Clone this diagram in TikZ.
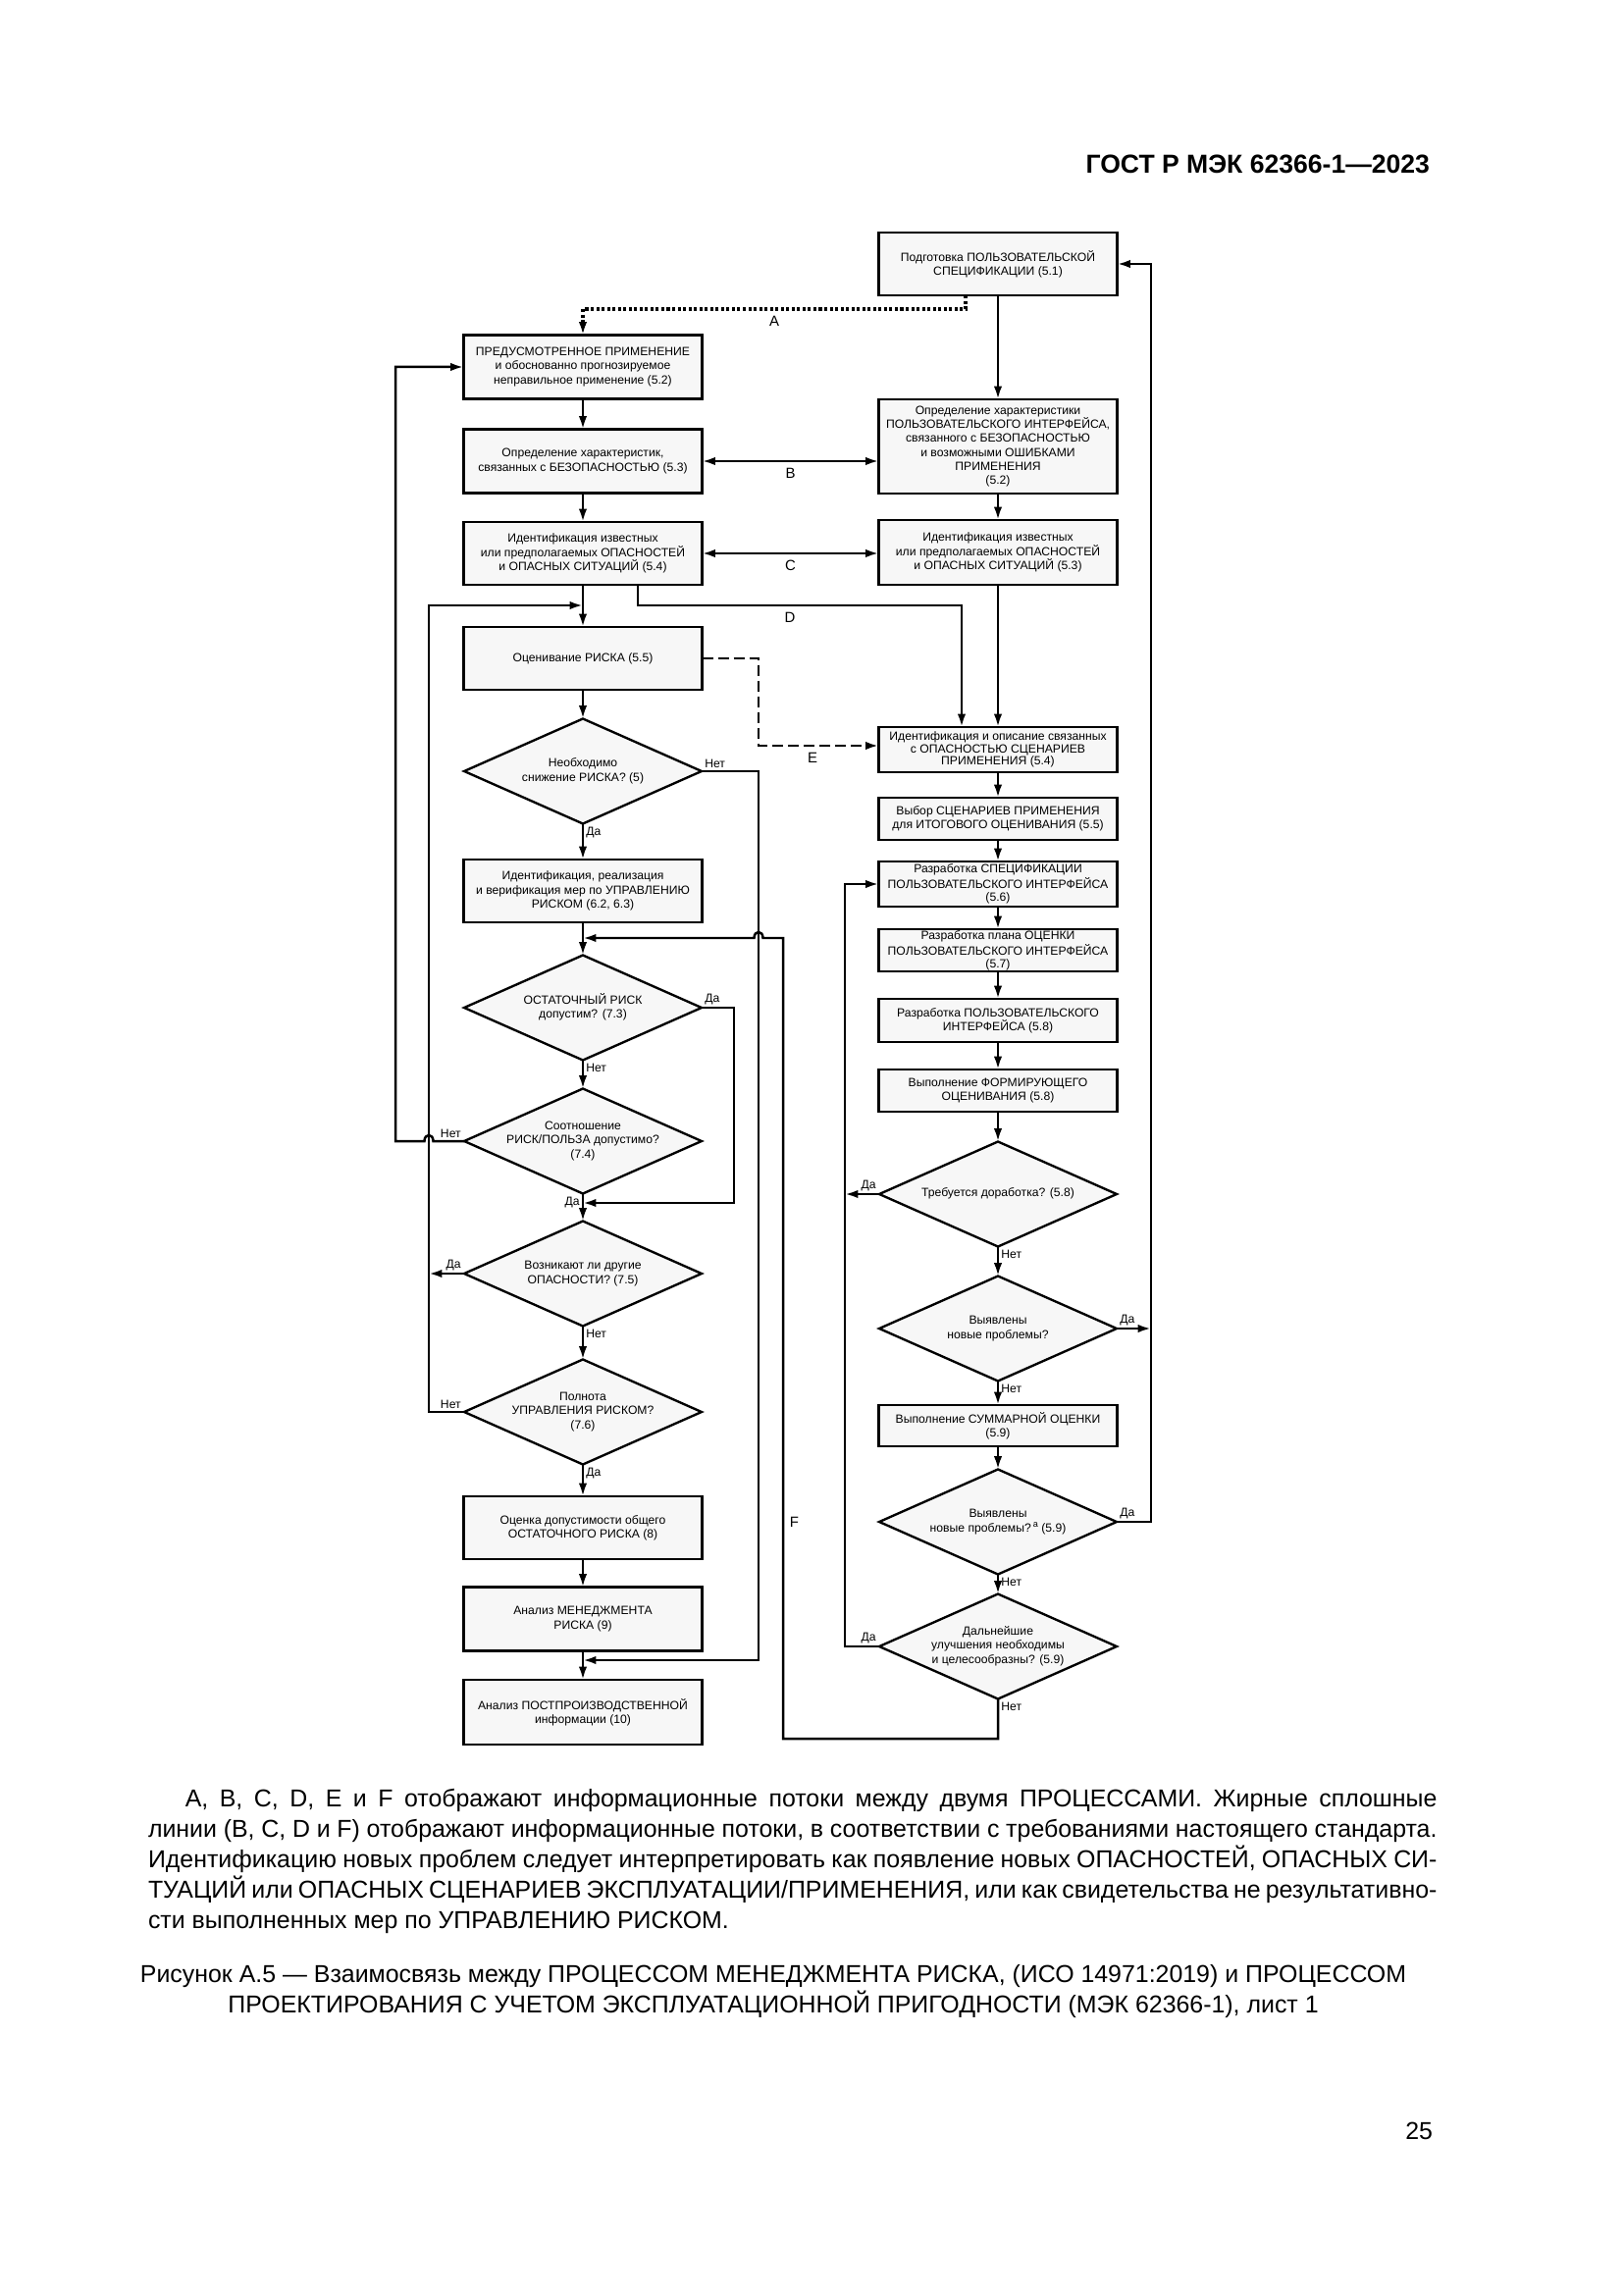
\documentclass[tikz,border=0pt]{standalone}
\usepackage{fontspec}
\setmainfont{Liberation Sans}
\usetikzlibrary{shapes.geometric,arrows.meta}
\newcommand{\dtext}[1]{\makebox[0pt]{\begin{tabular}{@{}c@{}}#1\end{tabular}}}
\begin{document}
\begin{tikzpicture}[>={Latex[length=4.8pt,width=3pt]},x=0.127mm,y=-0.127mm,
	every node/.style={inner sep=0pt,outer sep=0pt},
	blok/.style={draw,line width=1.05pt,fill=black!3,minimum width=30.86mm,minimum height=#1*0.127mm,align=center,font=\fontsize{4.4}{5.2}\selectfont},
	tesno/.style={font=\fontsize{4.4}{4.6}\selectfont},
	romb/.style={diamond,draw,line width=0.85pt,fill=black!3,aspect=2.26,minimum width=30.73mm,minimum height=13.59mm,font=\fontsize{4.4}{5.2}\selectfont},
	lbl/.style={font=\fontsize{4.4}{5.2}\selectfont,inner sep=1.2pt},
	bukva/.style={font=\fontsize{5.4}{6}\selectfont},
	lin/.style={line width=0.9pt},
	tochki/.style={line width=1.1pt,dash pattern=on 1.1pt off 0.9pt},
	shtrih/.style={line width=1pt,dash pattern=on 4pt off 1.8pt},
	stroka/.style={anchor=base west,font=\fontsize{9}{11.2}\selectfont}]
	\fill[white] (0,0) rectangle (1654,2339);
	\useasboundingbox (0,0) rectangle (1654,2339);
	% левая колонка
	\node[blok=65] (L1) at (594,374) {ПРЕДУСМОТРЕННОЕ ПРИМЕНЕНИЕ\\и обоснованно прогнозируемое\\неправильное применение (5.2)};
	\node[blok=65] (L2) at (594,470) {Определение характеристик,\\связанных с БЕЗОПАСНОСТЬЮ (5.3)};
	\node[blok=64] (L3) at (594,564) {Идентификация известных\\или предполагаемых ОПАСНОСТЕЙ\\и ОПАСНЫХ СИТУАЦИЙ (5.4)};
	\node[blok=64] (L4) at (594,671) {Оценивание РИСКА (5.5)};
	\node[romb] (L5) at (594,786) {\dtext{Необходимо\\снижение РИСКА? (5)}};
	\node[blok=64] (L6) at (594,908) {Идентификация, реализация\\и верификация мер по УПРАВЛЕНИЮ\\РИСКОМ (6.2, 6.3)};
	\node[romb] (L7) at (594,1027) {\dtext{ОСТАТОЧНЫЙ РИСК\\допустим? (7.3)}};
	\node[romb] (L8) at (594,1163) {\dtext{Соотношение\\РИСК/ПОЛЬЗА допустимо?\\(7.4)}};
	\node[romb] (L9) at (594,1298) {\dtext{Возникают ли другие\\ОПАСНОСТИ? (7.5)}};
	\node[romb] (L10) at (594,1439) {\dtext{Полнота\\УПРАВЛЕНИЯ РИСКОМ?\\(7.6)}};
	\node[blok=64] (L11) at (594,1557) {Оценка допустимости общего\\ОСТАТОЧНОГО РИСКА (8)};
	\node[blok=65] (L12) at (594,1650) {Анализ МЕНЕДЖМЕНТА\\РИСКА (9)};
	\node[blok=66] (L13) at (594,1745) {Анализ ПОСТПРОИЗВОДСТВЕННОЙ\\информации (10)};
	% правая колонка
	\node[blok=64] (R1) at (1017,269) {Подготовка ПОЛЬЗОВАТЕЛЬСКОЙ\\СПЕЦИФИКАЦИИ (5.1)};
	\node[blok=96] (R2) at (1017,455) {Определение характеристики\\ПОЛЬЗОВАТЕЛЬСКОГО ИНТЕРФЕЙСА,\\связанного с БЕЗОПАСНОСТЬЮ\\и возможными ОШИБКАМИ\\ПРИМЕНЕНИЯ\\(5.2)};
	\node[blok=66] (R3) at (1017,563) {Идентификация известных\\или предполагаемых ОПАСНОСТЕЙ\\и ОПАСНЫХ СИТУАЦИЙ (5.3)};
	\node[blok=46,tesno] (R4) at (1017,764) {Идентификация и описание связанных\\с ОПАСНОСТЬЮ СЦЕНАРИЕВ\\ПРИМЕНЕНИЯ (5.4)};
	\node[blok=43] (R5) at (1017,834.5) {Выбор СЦЕНАРИЕВ ПРИМЕНЕНИЯ\\для ИТОГОВОГО ОЦЕНИВАНИЯ (5.5)};
	\node[blok=46,tesno] (R6) at (1017,901) {Разработка СПЕЦИФИКАЦИИ\\ПОЛЬЗОВАТЕЛЬСКОГО ИНТЕРФЕЙСА\\(5.6)};
	\node[blok=43,tesno] (R7) at (1017,968.5) {Разработка плана ОЦЕНКИ\\ПОЛЬЗОВАТЕЛЬСКОГО ИНТЕРФЕЙСА\\(5.7)};
	\node[blok=44] (R8) at (1017,1040) {Разработка ПОЛЬЗОВАТЕЛЬСКОГО\\ИНТЕРФЕЙСА (5.8)};
	\node[blok=43] (R9) at (1017,1111.5) {Выполнение ФОРМИРУЮЩЕГО\\ОЦЕНИВАНИЯ (5.8)};
	\node[romb] (R10) at (1017,1217) {\dtext{Требуется доработка? (5.8)}};
	\node[romb] (R11) at (1017,1354) {\dtext{Выявлены\\новые проблемы?}};
	\node[blok=42] (R12) at (1017,1453) {Выполнение СУММАРНОЙ ОЦЕНКИ\\(5.9)};
	\node[romb] (R13) at (1017,1551) {\dtext{Выявлены\\новые проблемы?\,\raisebox{1.5pt}{\fontsize{3.3}{3.3}\selectfont a} (5.9)}};
	\node[romb] (R14) at (1017,1678) {\dtext{Дальнейшие\\улучшения необходимы\\и целесообразны? (5.9)}};
	% шины и точки слияния
	\coordinate (xA) at (403,0);
	\coordinate (xB) at (437,0);
	\coordinate (xC) at (748,0);
	\coordinate (xD) at (773,0);
	\coordinate (xL) at (861,0);
	\coordinate (xR) at (1173,0);
	\coordinate (jA) at (594,617);
	\coordinate (jF) at (594,956);
	\coordinate (jC) at (594,1226);
	\coordinate (jD) at (594,1692);
	\coordinate (a1) at (984,315);
	\coordinate (d1) at (650,617);
	\coordinate (d2) at (980,617);
	\coordinate (e1) at (773,760);
	\coordinate (f1) at (798,1772);
	\coordinate (h1) at (441.5,1163);
	\coordinate (h2) at (432.5,1163);
	\coordinate (h3) at (777.5,956);
	\coordinate (h4) at (768.5,956);
	% стрелки вниз
	\foreach \a/\b in {L1/L2,L2/L3,L3/L4,L4/L5,L5/L6,L6/L7,L7/L8,L8/L9,L9/L10,L10/L11,L11/L12,L12/L13,R1/R2,R2/R3,R3/R4,R4/R5,R5/R6,R6/R7,R7/R8,R8/R9,R9/R10,R10/R11,R11/R12,R12/R13,R13/R14}
		\draw[lin,->] (\a.south) -- (\b.north);
	% Да / Нет
	\foreach \p/\an/\t [count=\i] in {L5.east/south west/Нет,L5.south/north west/Да,L7.east/south west/Да,L7.south/north west/Нет,L8.west/south east/Нет,L8.south/north east/Да,L9.west/south east/Да,L9.south/north west/Нет,L10.west/south east/Нет,L10.south/north west/Да,R10.west/south east/Да,R10.south/north west/Нет,R11.east/south west/Да,R11.south/north west/Нет,R13.east/south west/Да,R13.south/north west/Нет,R14.west/south east/Да,R14.south/north west/Нет}
		\node[lbl,anchor=\an] (lab\i) at (\p) {\t};
	% потоки A--F между процессами
	\draw[tochki,->] (a1 |- R1.south) -- (a1) -- node[bukva,below=2.5pt] (nA) {A} (a1 -| L1.north) -- (L1.north);
	\draw[lin,<->] (L2.east) -- node[bukva,below=2.5pt] (nB) {B} (L2.east -| R2.west);
	\draw[lin,<->] (L3.east) -- node[bukva,below=2.5pt] (nC) {C} (L3.east -| R3.west);
	\draw[lin,->] (d1 |- L3.south) -- (d1) -- node[bukva,below=2.5pt,pos=0.47] (nD) {D} (d2) -- (d2 |- R4.north);
	\draw[shtrih,->] (L4.east) -- (L4.east -| e1) -- (e1) -- node[bukva,below=2.5pt,pos=0.45] (nE) {E} (e1 -| R4.west);
	\draw[lin,->] (R14.south) -- (R14.south |- f1) -- (f1) -- node[bukva,right=2.5pt,pos=0.27] (nF) {F} (f1 |- jF) -- (h3) .. controls +(0,-8) and +(0,-8) .. (h4) -- (jF);
	% обратные связи слева
	\draw[lin,->] (L8.west) -- (h1) .. controls +(0,-8) and +(0,-8) .. (h2) -- (h2 -| xA) -- (xA |- L1.west) -- (L1.west);
	\draw[lin,->] (L10.west) -- (L10.west -| xB) -- (xB |- jA) -- (jA);
	\draw[lin,->] (L9.west) -- (L9.west -| xB);
	\draw[lin,->] (L7.east) -- (L7.east -| xC) -- (xC |- jC) -- (jC);
	\draw[lin,->] (L5.east) -- (L5.east -| xD) -- (xD |- jD) -- (jD);
	% обратные связи справа
	\draw[lin,->] (R13.east) -- (R13.east -| xR) -- (xR |- R1.east) -- (R1.east);
	\draw[lin,->] (R11.east) -- (R11.east -| xR);
	\draw[lin,->] (R14.west) -- (R14.west -| xL) -- (xL |- R6.west) -- (R6.west);
	\draw[lin,->] (R10.west) -- (R10.west -| xL);
	% текст страницы
	\node[anchor=base east,font=\bfseries\fontsize{9.6}{11}\selectfont] (hdr) at (1457,177) {ГОСТ Р МЭК 62366-1—2023};
	\node[stroka] (p1) at (151,1841) {\makebox[166.8mm][s]{\hspace*{4.8mm}A, B, C, D, E и F отображают информационные потоки между двумя ПРОЦЕССАМИ. Жирные сплошные}};
	\node[stroka] (p2) at (151,1872) {\makebox[166.8mm][s]{линии (B, C, D и F) отображают информационные потоки, в соответствии с требованиями настоящего стандарта.}};
	\node[stroka] (p3) at (151,1903) {\makebox[166.8mm][s]{Идентификацию новых проблем следует интерпретировать как появление новых ОПАСНОСТЕЙ, ОПАСНЫХ СИ-}};
	\node[stroka] (p4) at (151,1934) {\makebox[166.8mm][s]{ТУАЦИЙ или ОПАСНЫХ СЦЕНАРИЕВ ЭКСПЛУАТАЦИИ/ПРИМЕНЕНИЯ, или как свидетельства не результативно-}};
	\node[stroka] (p5) at (151,1965) {сти выполненных мер по УПРАВЛЕНИЮ РИСКОМ.};
	\node[stroka,anchor=base] (c1) at (788,2020) {Рисунок А.5 — Взаимосвязь между ПРОЦЕССОМ МЕНЕДЖМЕНТА РИСКА, (ИСО 14971:2019) и ПРОЦЕССОМ};
	\node[stroka,anchor=base] (c2) at (788,2051) {ПРОЕКТИРОВАНИЯ С УЧЕТОМ ЭКСПЛУАТАЦИОННОЙ ПРИГОДНОСТИ (МЭК 62366-1), лист 1};
	\node[stroka,anchor=base east] (pg) at (1460,2180) {25};
\end{tikzpicture}
\end{document}
